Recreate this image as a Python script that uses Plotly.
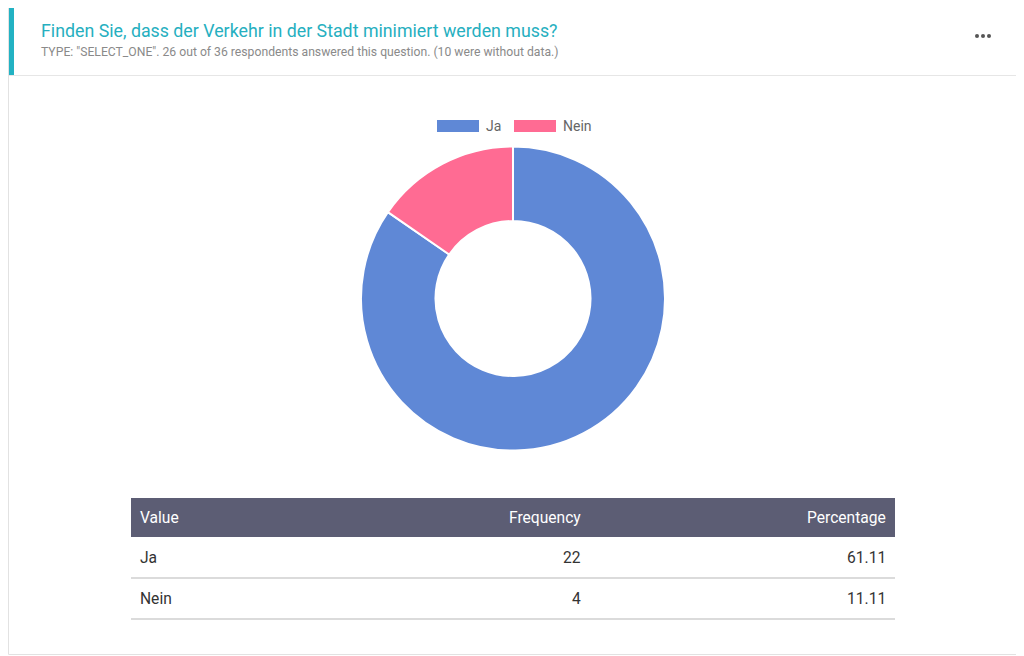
import plotly.graph_objects as go

# ---- data ----
labels = ["Ja", "Nein"]
frequencies = [22, 4]
percentages = ["61.11", "11.11"]
slice_colors = ["#5f88d6", "#ff6b93"]
table_headers = ["Value", "Frequency", "Percentage"]
title_text = "Finden Sie, dass der Verkehr in der Stadt minimiert werden muss?"
subtitle_text = 'TYPE: "SELECT_ONE". 26 out of 36 respondents answered this question. (10 were without data.)'

W, H = 1024, 656
OFF = 8  # page body margin
PAD = 2  # annotation inner padding
FONT = "Roboto"


def px(x):
    return (x - OFF) / W


def py(y):
    return 1 - (y - OFF) / H


fig = go.Figure()

fig.add_trace(go.Pie(
    labels=labels,
    values=frequencies,
    hole=0.51,
    sort=False,
    direction="clockwise",
    rotation=0,
    marker=dict(colors=slice_colors, line=dict(color="white", width=2)),
    textinfo="none",
    hoverinfo="label+value+percent",
    showlegend=False,
    domain=dict(x=[px(361), px(665)], y=[py(451), py(146)]),
))

shapes = []
annotations = []

# card border
shapes.append(dict(type="rect", xref="paper", yref="paper",
                   x0=px(8.5), x1=px(1018.5), y0=py(654.5), y1=py(6.5),
                   line=dict(color="#e2e2e2", width=1), fillcolor="rgba(0,0,0,0)"))
# header separator
shapes.append(dict(type="line", xref="paper", yref="paper",
                   x0=px(9), x1=px(1018), y0=py(75.5), y1=py(75.5),
                   line=dict(color="#e6e6e6", width=1)))
# teal accent bar
shapes.append(dict(type="rect", xref="paper", yref="paper",
                   x0=px(9), x1=px(14), y0=py(75), y1=py(7),
                   line=dict(width=0), fillcolor="#22b2c3"))
# menu dots
for cx in (977, 983, 989):
    shapes.append(dict(type="circle", xref="paper", yref="paper",
                       x0=px(cx - 2), x1=px(cx + 2), y0=py(38), y1=py(34),
                       line=dict(width=0), fillcolor="#555555"))

annotations.append(dict(text=title_text, x=px(41 - PAD), y=py(30), xref="paper", yref="paper",
                        xanchor="left", yanchor="middle", showarrow=False,
                        font=dict(family=FONT, size=17.8, color="#26afc0")))
annotations.append(dict(text=subtitle_text, x=px(41 - PAD), y=py(52), xref="paper", yref="paper",
                        xanchor="left", yanchor="middle", showarrow=False,
                        font=dict(family=FONT, size=12.2, color="#8a8a8a")))

# custom legend
leg_x = [437, 514]
for i, lab in enumerate(labels):
    x0 = leg_x[i]
    shapes.append(dict(type="rect", xref="paper", yref="paper",
                       x0=px(x0), x1=px(x0 + 42), y0=py(132), y1=py(120),
                       line=dict(width=0), fillcolor=slice_colors[i]))
    annotations.append(dict(text=lab, x=px(x0 + 49 - PAD), y=py(126), xref="paper", yref="paper",
                            xanchor="left", yanchor="middle", showarrow=False,
                            font=dict(family=FONT, size=14, color="#666666")))

# table
tx0, tx1 = 131, 895
head_top, head_bot = 498, 537
row_h = 41
shapes.append(dict(type="rect", xref="paper", yref="paper",
                   x0=px(tx0), x1=px(tx1), y0=py(head_bot), y1=py(head_top),
                   line=dict(width=0), fillcolor="#5c5d74"))
col_x = [140 - PAD, 581 + PAD, 886 + PAD]
col_anchor = ["left", "right", "right"]
for j, h in enumerate(table_headers):
    annotations.append(dict(text=h, x=px(col_x[j]), y=py((head_top + head_bot) / 2),
                            xref="paper", yref="paper", xanchor=col_anchor[j], yanchor="middle",
                            showarrow=False, font=dict(family=FONT, size=15.6, color="#ffffff")))
for i, lab in enumerate(labels):
    top = head_bot + i * row_h
    bot = top + row_h
    cells = [lab, str(frequencies[i]), percentages[i]]
    for j, c in enumerate(cells):
        annotations.append(dict(text=c, x=px(col_x[j]), y=py((top + bot) / 2),
                                xref="paper", yref="paper", xanchor=col_anchor[j], yanchor="middle",
                                showarrow=False, font=dict(family=FONT, size=15.6, color="#333333")))
    shapes.append(dict(type="line", xref="paper", yref="paper",
                       x0=px(tx0), x1=px(tx1), y0=py(bot), y1=py(bot),
                       line=dict(color="#cfcfcf", width=1.3)))

fig.update_layout(
    width=W, height=H,
    margin=dict(l=0, r=0, t=0, b=0),
    paper_bgcolor="white",
    plot_bgcolor="white",
    shapes=shapes,
    annotations=annotations,
    showlegend=False,
)

fig.write_html("out.html", config={"displayModeBar": False})
